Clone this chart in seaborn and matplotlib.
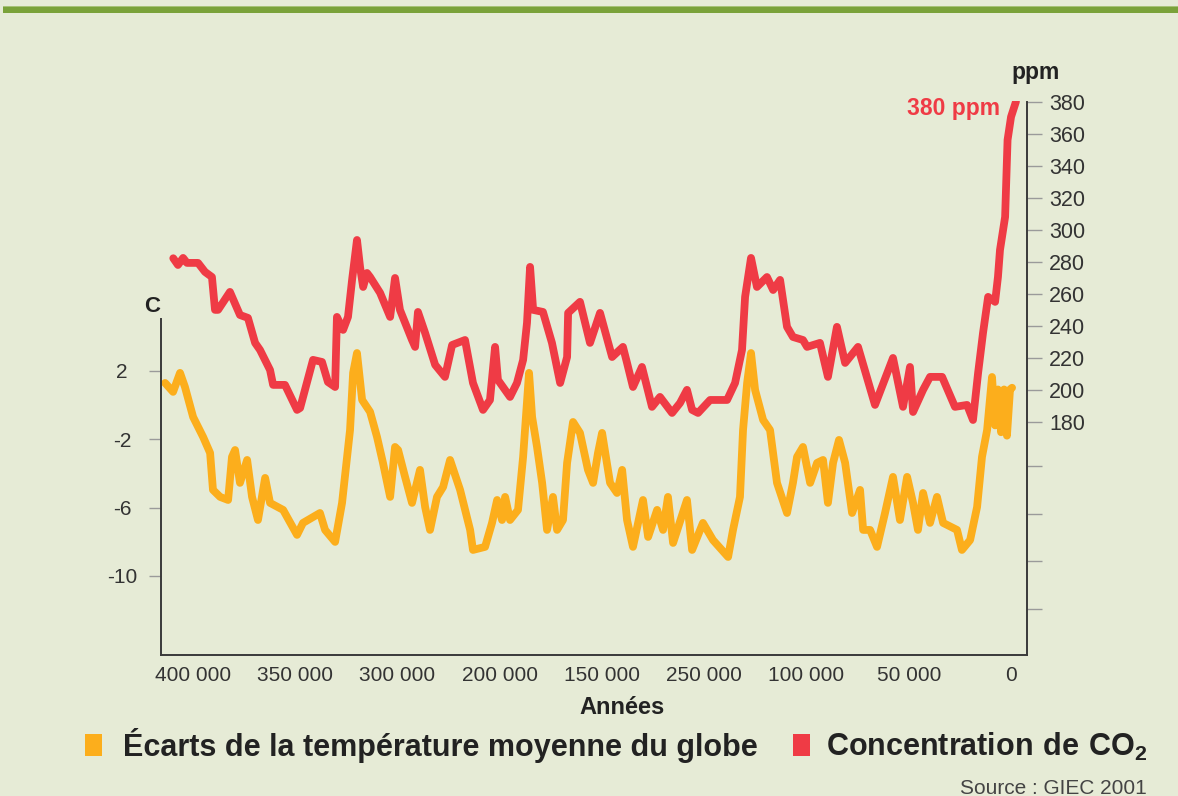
import matplotlib
matplotlib.use("Agg")
import matplotlib.pyplot as plt
from matplotlib.patches import Rectangle
import seaborn as sns

# Vostok ice core record: age in thousands of years before present
co2_age_ka = [409.5, 407.2, 404.7, 402.8, 397.4, 394.0, 390.6, 389.1, 387.6, 381.8,
              376.9, 373.0, 369.5, 367.1, 362.2, 360.7, 354.9, 349.0, 347.5, 341.2,
              336.8, 333.9, 330.4, 329.5, 326.5, 324.1, 322.1, 319.7, 318.2, 316.7,
              314.8, 313.3, 308.4, 303.5, 301.1, 298.7, 292.8, 291.3, 289.9, 286.4,
              281.5, 276.7, 273.2, 266.9, 263.0, 258.1, 254.7, 252.2, 250.8, 244.9,
              241.5, 238.5, 236.6, 235.1, 233.6, 228.8, 224.4, 220.4, 217.0, 216.5,
              210.7, 205.8, 200.9, 195.0, 189.7, 187.7, 184.8, 180.4, 175.5, 171.6,
              165.7, 161.8, 158.4, 155.9, 153.0, 147.1, 138.8, 134.9, 131.5, 130.0,
              127.1, 124.2, 119.3, 116.3, 112.9, 109.5, 106.6, 101.7, 99.7, 93.4,
              89.5, 85.1, 81.1, 74.8, 66.5, 57.7, 52.8, 49.4, 47.9, 43.0,
              39.6, 33.7, 27.4, 21.5, 18.6, 16.1, 13.7, 11.2, 7.8, 6.4,
              5.4, 2.9, 1.7, 0.0, -2.4]
co2_ppm = [282.3, 278.1, 282.5, 279.4, 279.4, 273.8, 270.6, 250.1, 250.1, 261.3,
           246.9, 245.1, 229.5, 225.1, 212.6, 203.3, 203.3, 187.7, 188.9, 218.9,
           217.6, 205.1, 202.0, 245.7, 237.6, 245.7, 268.8, 293.7, 276.9, 264.4,
           273.1, 270.6, 260.7, 245.7, 270.0, 250.1, 231.3, 227.0, 248.8, 235.7,
           215.8, 208.3, 228.2, 231.3, 204.5, 187.7, 193.9, 227.0, 206.4, 195.8,
           204.5, 218.9, 242.0, 276.9, 250.1, 248.8, 229.5, 204.5, 220.7, 248.2,
           255.1, 229.5, 248.2, 220.7, 227.0, 217.0, 202.0, 214.5, 189.6, 195.8,
           185.8, 192.0, 200.2, 187.7, 185.8, 193.9, 193.9, 204.5, 225.1, 258.2,
           282.5, 264.4, 270.6, 262.5, 268.8, 239.5, 233.2, 231.3, 227.0, 229.5,
           208.3, 239.5, 217.0, 227.0, 190.8, 220.1, 189.6, 214.5, 186.4, 200.2,
           208.3, 208.3, 189.6, 190.8, 181.4, 210.8, 235.7, 258.2, 255.1, 270.6,
           287.5, 308.1, 356.1, 370.5, 380.0]

temp_age_ka = [413.5, 409.6, 406.2, 403.8, 399.8, 394.9, 391.5, 390.1, 386.6, 382.7,
               380.8, 379.3, 376.9, 373.4, 371.0, 368.1, 364.6, 362.2, 355.8, 349.0,
               346.1, 337.8, 335.3, 330.4, 327.0, 323.1, 321.6, 319.7, 317.2, 313.3,
               309.9, 307.0, 303.5, 301.1, 299.6, 296.2, 292.8, 288.9, 286.4, 284.0,
               280.6, 277.6, 274.2, 269.3, 264.4, 263.0, 257.1, 253.7, 251.2, 248.8,
               247.3, 244.9, 241.0, 238.5, 235.6, 234.1, 231.7, 229.2, 226.8, 223.9,
               221.9, 219.0, 217.0, 214.1, 210.7, 206.8, 204.3, 201.9, 199.9, 196.0,
               192.6, 190.1, 187.7, 184.8, 179.9, 177.4, 173.0, 170.1, 167.7, 165.2,
               158.4, 155.9, 150.6, 145.7, 138.3, 135.9, 132.5, 131.0, 129.0, 127.1,
               125.1, 121.2, 117.8, 114.4, 109.5, 106.6, 104.6, 101.7, 98.2, 94.8,
               91.9, 89.5, 87.0, 84.1, 81.1, 77.7, 73.8, 72.3, 68.9, 65.5,
               61.6, 57.7, 54.3, 50.8, 47.9, 45.5, 43.0, 39.6, 36.2, 33.2,
               26.4, 24.0, 20.0, 16.6, 14.2, 11.7, 9.3, 7.8, 6.4, 4.9,
               3.4, 2.0, 0.5, -0.5]
temp_dev = [1.28, 0.76, 1.87, 1.05, -0.71, -1.88, -2.81, -4.97, -5.38, -5.56,
            -3.04, -2.64, -4.56, -3.22, -5.38, -6.73, -4.27, -5.73, -6.14, -7.60,
            -6.90, -6.32, -7.31, -8.01, -5.73, -1.47, 1.87, 3.03, 0.29, -0.41,
            -1.88, -3.39, -5.38, -2.46, -2.64, -4.21, -5.73, -3.80, -5.97, -7.31,
            -5.38, -4.80, -3.22, -4.97, -7.31, -8.48, -8.30, -6.90, -5.56, -6.73,
            -5.38, -6.73, -6.14, -3.04, 1.87, -0.71, -2.46, -4.56, -7.31, -5.38,
            -7.31, -6.73, -3.39, -1.00, -1.64, -3.80, -4.56, -2.81, -1.64, -4.56,
            -5.15, -3.80, -6.73, -8.30, -5.56, -7.72, -6.14, -7.31, -5.38, -8.07,
            -5.56, -8.48, -6.90, -7.90, -8.89, -7.31, -5.38, -1.47, 1.28, 3.03,
            0.87, -0.88, -1.47, -4.56, -6.32, -4.56, -3.04, -2.46, -4.56, -3.39,
            -3.22, -5.73, -3.39, -2.05, -3.39, -6.32, -4.97, -7.31, -7.31, -8.30,
            -6.32, -4.21, -6.73, -4.21, -5.73, -7.31, -5.15, -6.90, -5.38, -6.90,
            -7.31, -8.48, -7.90, -5.97, -3.04, -1.47, 1.63, -1.20, 0.90, -1.60,
            0.90, -1.80, 0.90, 1.00]

year_ticks = [400, 350, 300, 250, 200, 150, 100, 50, 0]
year_tick_labels = ["400 000", "350 000", "300 000", "200 000", "150 000",
                    "250 000", "100 000", "50 000", "0"]
temp_ticks = [2, -2, -6, -10]
ppm_ticks = [180, 200, 220, 240, 260, 280, 300, 320, 340, 360, 380]
ppm_minor_ticks = [63.5, 93.5, 123.0, 152.5]

BG = "#e6ebd6"
ORANGE = "#fcae1c"
RED = "#ef3b45"
TXT = "#333333"
TICK = "#9a9a9a"
SPINE = "#3a3a3a"

sns.set_style("white")
plt.rcParams["font.family"] = ["Liberation Sans", "DejaVu Sans"]
plt.rcParams["mathtext.fontset"] = "custom"
plt.rcParams["mathtext.rm"] = "Liberation Sans"
plt.rcParams["mathtext.bf"] = "Liberation Sans:bold"

W, H = 1178, 796
fig = plt.figure(figsize=(W / 100, H / 100), dpi=100, facecolor=BG)

def fx(px):
    return px / W

def fy(py):
    return 1 - py / H

# top rule
fig.add_artist(Rectangle((fx(3), fy(7.5)), 1, 1.2 / H, transform=fig.transFigure,
                         color="#a7c277", lw=0))
fig.add_artist(Rectangle((fx(3), fy(12.7)), 1, 5.3 / H, transform=fig.transFigure,
                         color="#7aa239", lw=0))

ax = fig.add_axes([fx(161), fy(655), fx(1027) - fx(161), fy(101) - fy(655)])
ax.set_facecolor("none")
sns.lineplot(x=temp_age_ka, y=temp_dev, ax=ax, color=ORANGE, lw=5.6,
             sort=False, estimator=None, solid_joinstyle="round")
ax2 = ax.twinx()
ax2.set_facecolor("none")
sns.lineplot(x=co2_age_ka, y=co2_ppm, ax=ax2, color=RED, lw=5.6,
             sort=False, estimator=None, solid_joinstyle="round")

ax.set_xlim(415.5, -7.8)
ax.set_ylim(-14.62, 17.76)
ax2.set_ylim(34.8, 380.4)

for a in (ax, ax2):
    for s in a.spines.values():
        s.set_visible(False)
ax.spines["left"].set_visible(True)
ax.spines["bottom"].set_visible(True)
ax2.spines["right"].set_visible(True)
for s in (ax.spines["left"], ax.spines["bottom"], ax2.spines["right"]):
    s.set_color(SPINE)
    s.set_linewidth(1.4)
ax.spines["left"].set_bounds(-14.62, 5)
ax2.spines["right"].set_bounds(34.8, 380)

ax.set_xticks(year_ticks)
ax.set_xticklabels(year_tick_labels)
ax.tick_params(axis="x", direction="in", length=11, width=1, color=TICK,
               pad=8, labelsize=15, labelcolor=TXT)
ax.set_yticks(temp_ticks)
ax.set_yticklabels([str(t) for t in temp_ticks])
ax.tick_params(axis="y", direction="out", length=9, width=1, color=TICK,
               pad=19, labelsize=15, labelcolor=TXT)
for lbl in ax.get_yticklabels():
    lbl.set_horizontalalignment("center")

ax2.set_yticks(ppm_ticks)
ax2.set_yticklabels([str(t) for t in ppm_ticks])
ax2.set_yticks(ppm_minor_ticks, minor=True)
ax2.tick_params(axis="y", which="both", direction="out", length=11, width=1,
                color=TICK, pad=5, labelsize=15.5, labelcolor=TXT)
ax.set_xlabel("")
ax.set_ylabel("")
ax2.set_ylabel("")

fig.text(fx(152), fy(312), "C", ha="center", va="baseline", size=16,
         weight="bold", color="#222222")
fig.text(fx(1036), fy(79), "ppm", ha="center", va="baseline", size=16.5,
         weight="bold", color="#222222")
fig.text(fx(1000), fy(115), "380 ppm", ha="right", va="baseline", size=16.5,
         weight="bold", color=RED)
fig.text(fx(622), fy(714), "Années", ha="center", va="baseline", size=17,
         weight="bold", color="#222222")

# legend
fig.add_artist(Rectangle((fx(85), fy(756)), 17 / W, 22 / H, transform=fig.transFigure,
                         color=ORANGE, lw=0))
fig.add_artist(Rectangle((fx(793), fy(756)), 17 / W, 22 / H, transform=fig.transFigure,
                         color=RED, lw=0))
fig.text(fx(123), fy(756), "Écarts de la température moyenne du globe", ha="left",
         va="baseline", size=22, weight="bold", color="#222222")
fig.text(fx(826), fy(756), r"$\mathbf{Concentration\ de\ CO_2}$", ha="left",
         va="baseline", size=22, color="#222222")
fig.text(fx(1147), fy(794), "Source : GIEC 2001", ha="right", va="baseline",
         size=15, color="#444444")

fig.savefig("out.png", dpi=100, facecolor=BG)
